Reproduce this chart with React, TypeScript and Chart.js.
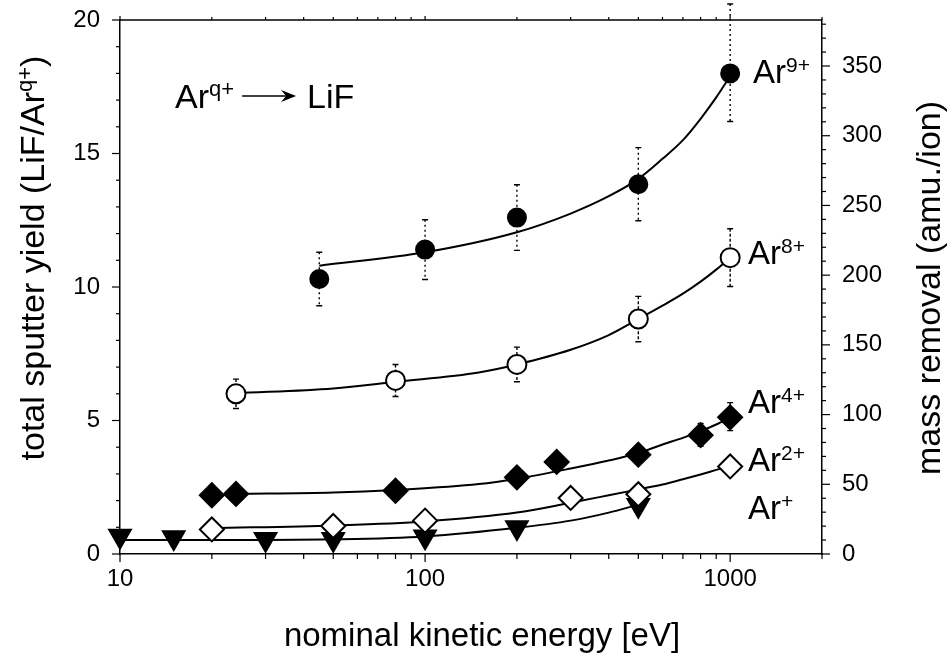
import React, { useEffect, useRef } from "react";
import { Chart, registerables } from "chart.js";
Chart.register(...registerables);

const FONT = '"Liberation Sans", Arial, Helvetica, sans-serif';

// ---- axes ----
const X_MIN = 10;
const X_MAX = 2000;
const Y_MIN = 0;
const Y_MAX = 20;
const Y2_MAX = 383;
const xLabelTicks = [10, 100, 1000];
const xMinorMult = [1, 2, 3, 4, 5, 6, 7, 8, 9];
const xDecades = [10, 100, 1000];

// ---- Ar9+ (filled circles) ----
const ar9E = [45, 100, 200, 500, 1000];
const ar9Y = [10.3, 11.4, 12.6, 13.85, 18.0];
const ar9Lo = [1.0, 1.12, 1.23, 1.37, 1.8];
const ar9Hi = [1.0, 1.12, 1.23, 1.37, 2.6];
const ar9FitE = [45, 100, 200, 300, 400, 500, 600, 700, 800, 900, 1000];
const ar9FitY = [10.8, 11.3, 12.05, 12.75, 13.4, 14.05, 14.8, 15.5, 16.3, 17.1, 17.9];

// ---- Ar8+ (open circles) ----
const ar8E = [24, 80, 200, 500, 1000];
const ar8Y = [6.0, 6.5, 7.1, 8.8, 11.1];
const ar8Lo = [0.55, 0.6, 0.65, 0.85, 1.08];
const ar8Hi = [0.55, 0.6, 0.65, 0.85, 1.08];
const ar8FitE = [24, 50, 80, 150, 200, 300, 400, 500, 600, 700, 800, 900, 1000];
const ar8FitY = [6.02, 6.2, 6.45, 6.8, 7.1, 7.65, 8.2, 8.8, 9.3, 9.75, 10.2, 10.65, 11.1];

// ---- Ar4+ (filled diamonds) ----
const ar4E = [20, 24, 80, 200, 270, 500, 800, 1000];
const ar4Y = [2.2, 2.25, 2.37, 2.87, 3.45, 3.72, 4.45, 5.12];
const ar4Lo = [0, 0, 0, 0, 0, 0, 0.42, 0.5];
const ar4Hi = [0, 0, 0, 0, 0, 0, 0.44, 0.55];
const ar4FitE = [24, 50, 80, 150, 200, 300, 400, 500, 600, 700, 800, 900, 1000];
const ar4FitY = [2.25, 2.3, 2.4, 2.62, 2.82, 3.2, 3.5, 3.78, 4.1, 4.35, 4.6, 4.85, 5.1];

// ---- Ar2+ (open diamonds) ----
const ar2E = [20, 50, 100, 300, 500, 1000];
const ar2Y = [0.92, 1.05, 1.25, 2.1, 2.24, 3.28];
const ar2FitE = [20, 50, 100, 200, 300, 400, 500, 600, 700, 800, 900, 1000];
const ar2FitY = [0.97, 1.07, 1.22, 1.55, 1.92, 2.2, 2.42, 2.6, 2.8, 2.98, 3.15, 3.3];

// ---- Ar+ (filled down triangles) ----
const ar1E = [10, 15, 30, 50, 100, 200, 500];
const ar1Y = [0.67, 0.62, 0.55, 0.55, 0.65, 0.99, 1.83];
const ar1FitE = [10, 20, 50, 100, 200, 300, 400, 500];
const ar1FitY = [0.52, 0.52, 0.55, 0.66, 0.98, 1.25, 1.55, 1.85];

// ---- labels ----
const seriesLabels = [
  { base: "Ar", sup: "9+", x: 753, y: 83 },
  { base: "Ar", sup: "8+", x: 748, y: 264 },
  { base: "Ar", sup: "4+", x: 748, y: 413 },
  { base: "Ar", sup: "2+", x: 748, y: 471 },
  { base: "Ar", sup: "+", x: 748, y: 519 },
];

const pts = (xs: number[], ys: number[]) => xs.map((x, i) => ({ x, y: ys[i] }));

function supWidth(ctx: CanvasRenderingContext2D, base: string, sup: string, bs: number, ss: number, tail = "") {
  ctx.font = `${bs}px ${FONT}`;
  const w1 = ctx.measureText(base).width;
  const w3 = tail ? ctx.measureText(tail).width : 0;
  ctx.font = `${ss}px ${FONT}`;
  const w2 = ctx.measureText(sup).width;
  return { w1, w2, w3, total: w1 + w2 + w3 };
}

function drawSup(ctx: CanvasRenderingContext2D, x: number, y: number, base: string, sup: string, bs: number, ss: number, rise: number, tail = "") {
  const m = supWidth(ctx, base, sup, bs, ss, tail);
  ctx.textAlign = "left";
  ctx.textBaseline = "alphabetic";
  ctx.font = `${bs}px ${FONT}`;
  ctx.fillText(base, x, y);
  ctx.font = `${ss}px ${FONT}`;
  ctx.fillText(sup, x + m.w1, y - rise);
  if (tail) {
    ctx.font = `${bs}px ${FONT}`;
    ctx.fillText(tail, x + m.w1 + m.w2, y);
  }
  return m.total;
}

const errSets = [
  { e: ar9E, y: ar9Y, lo: ar9Lo, hi: ar9Hi, dash: [2, 3] },
  { e: ar8E, y: ar8Y, lo: ar8Lo, hi: ar8Hi, dash: [3, 2] },
  { e: ar4E, y: ar4Y, lo: ar4Lo, hi: ar4Hi, dash: [] as number[] },
];

const decor = {
  id: "decor",
  beforeDatasetsDraw(chart: any) {
    const ctx: CanvasRenderingContext2D = chart.ctx;
    const xs = chart.scales.x;
    const ys = chart.scales.y;
    ctx.save();
    ctx.strokeStyle = "#000";
    ctx.lineWidth = 1.4;
    for (const s of errSets) {
      s.e.forEach((e, i) => {
        if (!s.lo[i] && !s.hi[i]) return;
        const px = xs.getPixelForValue(e);
        const t = ys.getPixelForValue(s.y[i] + s.hi[i]);
        const b = ys.getPixelForValue(s.y[i] - s.lo[i]);
        ctx.setLineDash(s.dash);
        ctx.beginPath();
        ctx.moveTo(px, t);
        ctx.lineTo(px, b);
        ctx.stroke();
        ctx.setLineDash([]);
        ctx.beginPath();
        ctx.moveTo(px - 3, t);
        ctx.lineTo(px + 3, t);
        ctx.moveTo(px - 3, b);
        ctx.lineTo(px + 3, b);
        ctx.stroke();
      });
    }
    ctx.restore();
  },
  afterDraw(chart: any) {
    const ctx: CanvasRenderingContext2D = chart.ctx;
    const { left, right, top, bottom } = chart.chartArea;
    const xs = chart.scales.x;
    const ys = chart.scales.y;
    const y2 = chart.scales.y2;
    ctx.save();
    ctx.strokeStyle = "#000";
    ctx.fillStyle = "#000";
    ctx.lineWidth = 1.5;
    // top axis line
    ctx.beginPath();
    ctx.moveTo(left, top);
    ctx.lineTo(right, top);
    ctx.stroke();
    // x ticks (bottom outward, top outward short)
    ctx.lineWidth = 1.2;
    for (const d of xDecades) {
      for (const m of xMinorMult) {
        const v = d * m;
        if (v > X_MAX) continue;
        const px = xs.getPixelForValue(v);
        const major = m === 1;
        ctx.beginPath();
        ctx.moveTo(px, bottom);
        ctx.lineTo(px, bottom + (major ? 8 : 5));
        ctx.moveTo(px, top);
        ctx.lineTo(px, top - (major ? 4 : 3));
        ctx.stroke();
      }
    }
    // left ticks
    for (let v = Y_MIN; v <= Y_MAX; v += 1) {
      const py = ys.getPixelForValue(v);
      const major = v % 5 === 0;
      ctx.beginPath();
      ctx.moveTo(left, py);
      ctx.lineTo(left - (major ? 8 : 4), py);
      ctx.stroke();
    }
    // right ticks
    for (let v = 0; v <= Y2_MAX; v += 10) {
      const py = y2.getPixelForValue(v);
      const major = v % 50 === 0;
      ctx.beginPath();
      ctx.moveTo(right, py);
      ctx.lineTo(right + (major ? 8 : 4), py);
      ctx.stroke();
    }

    // annotation  Ar^{q+} -> LiF
    const ax = 175, ay = 108;
    const w = drawSup(ctx, ax, ay, "Ar", "q+", 34, 22, 12);
    const a0 = ax + w + 8, a1 = a0 + 54;
    ctx.lineWidth = 1.5;
    ctx.beginPath();
    ctx.moveTo(a0, ay - 12);
    ctx.lineTo(a1 - 4, ay - 12);
    ctx.stroke();
    ctx.beginPath();
    ctx.moveTo(a1, ay - 12);
    ctx.lineTo(a1 - 15, ay - 18);
    ctx.lineTo(a1 - 10, ay - 12);
    ctx.lineTo(a1 - 15, ay - 6);
    ctx.closePath();
    ctx.fill();
    ctx.font = `34px ${FONT}`;
    ctx.textAlign = "left";
    ctx.fillText("LiF", a1 + 11, ay);

    // series labels
    for (const l of seriesLabels) drawSup(ctx, l.x, l.y, l.base, l.sup, 33, 21, 11);

    // bottom title
    ctx.font = `33px ${FONT}`;
    ctx.textAlign = "center";
    ctx.textBaseline = "alphabetic";
    ctx.fillText("nominal kinetic energy [eV]", 482, 646);

    // left title (rotated)
    ctx.save();
    ctx.translate(44, 258);
    ctx.rotate(-Math.PI / 2);
    const mL = supWidth(ctx, "total sputter yield (LiF/Ar", "q+", 34, 22, ")");
    drawSup(ctx, -mL.total / 2, 0, "total sputter yield (LiF/Ar", "q+", 34, 22, 12, ")");
    ctx.restore();

    // right title (rotated)
    ctx.save();
    ctx.translate(940, 288);
    ctx.rotate(-Math.PI / 2);
    ctx.font = `34px ${FONT}`;
    ctx.textAlign = "center";
    ctx.textBaseline = "alphabetic";
    ctx.fillText("mass removal (amu./ion)", 0, 0);
    ctx.restore();

    ctx.restore();
  },
};

export default function App() {
  const ref = useRef<HTMLCanvasElement>(null);
  useEffect(() => {
    const lineDs = (xs: number[], ys: number[]) => ({
      type: "line" as const,
      data: pts(xs, ys),
      showLine: true,
      borderColor: "#000",
      borderWidth: 2,
      pointRadius: 0,
      fill: false,
      tension: 0.4,
      cubicInterpolationMode: "monotone" as const,
      order: 2,
      clip: false as const,
    });
    const markDs = (xs: number[], ys: number[], style: string, filled: boolean, r: number, rot = 0) => ({
      type: "scatter" as const,
      data: pts(xs, ys),
      showLine: false,
      pointStyle: style,
      pointRadius: r,
      pointRotation: rot,
      pointBackgroundColor: filled ? "#000" : "#fff",
      pointBorderColor: "#000",
      pointBorderWidth: 2,
      order: 1,
      clip: false as const,
    });
    const noPad = (s: any) => {
      s.paddingTop = 0;
      s.paddingBottom = 0;
      s.paddingLeft = 0;
      s.paddingRight = 0;
    };
    const chart = new Chart(ref.current!, {
      type: "scatter",
      data: {
        datasets: [
          markDs(ar9E, ar9Y, "circle", true, 9),
          markDs(ar8E, ar8Y, "circle", false, 9.5),
          markDs(ar4E, ar4Y, "rectRot", true, 12),
          markDs(ar2E, ar2Y, "rectRot", false, 12),
          markDs(ar1E, ar1Y, "triangle", true, 12.5, 180),
          lineDs(ar9FitE, ar9FitY),
          lineDs(ar8FitE, ar8FitY),
          lineDs(ar4FitE, ar4FitY),
          lineDs(ar2FitE, ar2FitY),
          lineDs(ar1FitE, ar1FitY),
        ] as any,
      },
      options: {
        animation: false,
        responsive: true,
        maintainAspectRatio: false,
        layout: { padding: { top: 20, left: 0, right: 0, bottom: 0 } },
        plugins: { legend: { display: false }, tooltip: { enabled: false } },
        events: [],
        scales: {
          x: {
            type: "logarithmic",
            position: "bottom",
            min: X_MIN,
            max: X_MAX,
            grid: { display: false, drawTicks: false },
            border: { display: true, color: "#000", width: 1.5 },
            ticks: {
              autoSkip: false,
              maxRotation: 0,
              minRotation: 0,
              padding: 11,
              color: "#000",
              font: { family: FONT, size: 24 },
              callback: (v: any) => (xLabelTicks.includes(Number(v)) ? String(v) : ""),
            },
            afterFit: (s: any) => {
              s.height = 104;
              noPad(s);
            },
          },
          y: {
            type: "linear",
            position: "left",
            min: Y_MIN,
            max: Y_MAX,
            grid: { display: false, drawTicks: false },
            border: { display: true, color: "#000", width: 1.5 },
            ticks: {
              stepSize: 5,
              padding: 20,
              color: "#000",
              font: { family: FONT, size: 24 },
            },
            afterFit: (s: any) => {
              s.width = 120;
              noPad(s);
            },
          },
          y2: {
            type: "linear",
            position: "right",
            min: 0,
            max: Y2_MAX,
            grid: { display: false, drawTicks: false },
            border: { display: true, color: "#000", width: 1.5, dash: [4, 3] },
            ticks: {
              stepSize: 50,
              includeBounds: false,
              padding: 20,
              color: "#000",
              font: { family: FONT, size: 24 },
            },
            afterFit: (s: any) => {
              s.width = 129;
              noPad(s);
            },
          },
        },
      } as any,
      plugins: [decor],
    });
    return () => chart.destroy();
  }, []);
  return (
    <div style={{ position: "fixed", left: 0, top: 0, width: 951, height: 658, background: "#fff" }}>
      <canvas ref={ref} />
    </div>
  );
}
